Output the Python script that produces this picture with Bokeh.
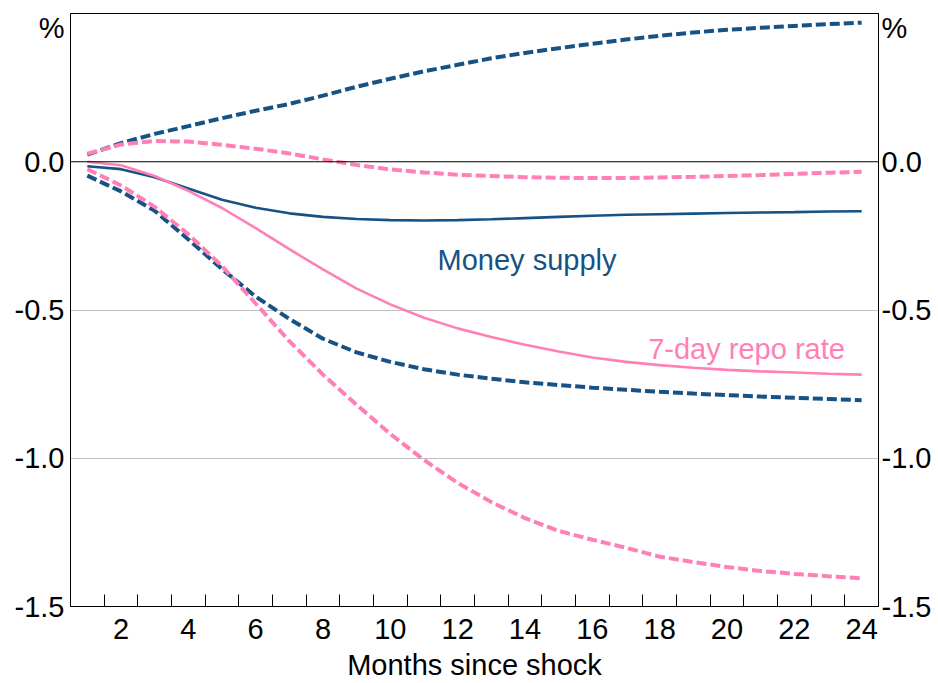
from bokeh.plotting import figure
from bokeh.models import FixedTicker, LinearAxis, Range1d, Span, Label
from bokeh.embed import file_html
from bokeh.resources import INLINE

# ---- data ----
months = list(range(1, 25))
money_supply = [-0.015, -0.025, -0.052, -0.09, -0.128, -0.155, -0.174, -0.186, -0.193, -0.197,
                -0.198, -0.197, -0.194, -0.19, -0.186, -0.182, -0.179, -0.177, -0.175, -0.173,
                -0.171, -0.17, -0.168, -0.167]
money_upper = [0.024, 0.063, 0.094, 0.12, 0.147, 0.172, 0.195, 0.223, 0.253, 0.28,
               0.305, 0.327, 0.349, 0.367, 0.383, 0.398, 0.412, 0.425, 0.436, 0.445,
               0.452, 0.458, 0.464, 0.469]
money_lower = [-0.047, -0.1, -0.165, -0.262, -0.362, -0.455, -0.53, -0.597, -0.643, -0.675,
               -0.7, -0.718, -0.732, -0.744, -0.753, -0.762, -0.769, -0.776, -0.782, -0.787,
               -0.792, -0.796, -0.8, -0.804]
repo_rate = [0.0, -0.012, -0.048, -0.098, -0.156, -0.224, -0.295, -0.363, -0.428, -0.481,
             -0.526, -0.562, -0.591, -0.617, -0.64, -0.66, -0.675, -0.686, -0.695, -0.702,
             -0.707, -0.711, -0.715, -0.718]
repo_upper = [0.027, 0.058, 0.07, 0.068, 0.057, 0.044, 0.028, 0.008, -0.011, -0.026,
              -0.036, -0.044, -0.048, -0.052, -0.054, -0.055, -0.055, -0.053, -0.051, -0.048,
              -0.045, -0.041, -0.037, -0.034]
repo_lower = [-0.025, -0.08, -0.152, -0.245, -0.352, -0.478, -0.605, -0.718, -0.82, -0.918,
              -1.006, -1.083, -1.148, -1.202, -1.245, -1.275, -1.302, -1.332, -1.35, -1.367,
              -1.38, -1.39, -1.398, -1.405]

x_tick_labels = [2, 4, 6, 8, 10, 12, 14, 16, 18, 20, 22, 24]
x_minor_ticks = [m + 0.5 for m in range(1, 24)]
y_ticks = [-1.5, -1.0, -0.5, 0.0, 0.45]
y_tick_labels = {-1.5: "-1.5", -1.0: "-1.0", -0.5: "-0.5", 0.0: "0.0", 0.45: "%"}

BLUE = "#165284"
PINK = "#FF80B6"
FONT = "Liberation Sans"
FS = "29px"

p = figure(width=938, height=683, x_range=Range1d(0.5, 24.5), y_range=Range1d(-1.5, 0.5),
           output_backend="svg", toolbar_location=None,
           min_border_left=70, min_border_right=60, min_border_top=13, min_border_bottom=76)
p.background_fill_color = "white"
p.border_fill_color = "white"
p.outline_line_color = "black"
p.outline_line_width = 1

# grid
p.xgrid.visible = False
p.ygrid.ticker = FixedTicker(ticks=[-1.0, -0.5])
p.ygrid.grid_line_color = "#c0c0c0"
p.ygrid.grid_line_width = 1
p.add_layout(Span(location=0, dimension="width", line_color="black", line_width=1))

# x axis
xa = p.xaxis[0]
xa.ticker = FixedTicker(ticks=x_tick_labels, minor_ticks=x_minor_ticks)
xa.major_tick_line_color = None
xa.major_tick_in = 0
xa.major_tick_out = 0
xa.minor_tick_line_color = "black"
xa.minor_tick_line_width = 1
xa.minor_tick_in = 12
xa.minor_tick_out = 0
xa.axis_line_color = "black"
xa.major_label_text_font = FONT
xa.major_label_text_font_size = FS
xa.major_label_text_color = "black"
xa.major_label_standoff = 12
xa.axis_label = "Months since shock"
xa.axis_label_text_font = FONT
xa.axis_label_text_font_size = FS
xa.axis_label_text_font_style = "normal"
xa.axis_label_text_color = "black"
xa.axis_label_standoff = 7

# y axes
ra = LinearAxis()
p.add_layout(ra, "right")
for ax in (p.yaxis[0], ra):
    ax.ticker = FixedTicker(ticks=y_ticks)
    ax.major_label_overrides = y_tick_labels
    ax.major_tick_line_color = None
    ax.major_tick_in = 0
    ax.major_tick_out = 0
    ax.minor_tick_line_color = None
    ax.minor_tick_in = 0
    ax.minor_tick_out = 0
    ax.axis_line_color = "black"
    ax.major_label_text_font = FONT
    ax.major_label_text_font_size = FS
    ax.major_label_text_color = "black"
p.yaxis[0].major_label_standoff = 6
ra.major_label_standoff = 3

# lines
dash = "10 4"
p.line(months, money_upper, line_color=BLUE, line_width=4, line_dash=dash)
p.line(months, money_lower, line_color=BLUE, line_width=4, line_dash=dash)
p.line(months, repo_upper, line_color=PINK, line_width=4, line_dash=dash)
p.line(months, repo_lower, line_color=PINK, line_width=4, line_dash=dash)
p.line(months, money_supply, line_color=BLUE, line_width=2.6)
p.line(months, repo_rate, line_color=PINK, line_width=2.6)

# series labels
p.add_layout(Label(x=14.06, y=-0.332, text="Money supply", text_color=BLUE,
                   text_font=FONT, text_font_size=FS, text_align="center",
                   text_baseline="alphabetic"))
p.add_layout(Label(x=20.58, y=-0.633, text="7-day repo rate", text_color=PINK,
                   text_font=FONT, text_font_size=FS, text_align="center",
                   text_baseline="alphabetic"))

open("out.html", "w").write(file_html(p, INLINE))
